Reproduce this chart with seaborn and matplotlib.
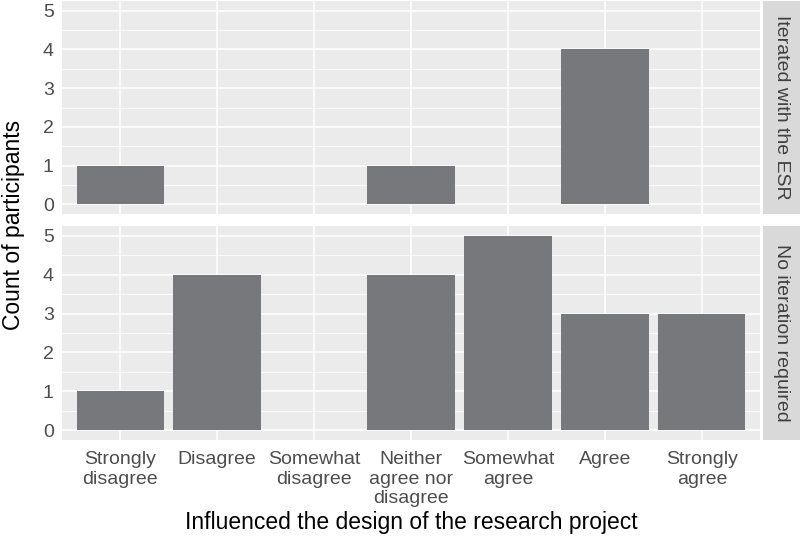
import matplotlib
matplotlib.use("Agg")
import matplotlib.pyplot as plt
import seaborn as sns
import pandas as pd
import numpy as np

categories = ["Strongly\ndisagree", "Disagree", "Somewhat\ndisagree",
              "Neither\nagree nor\ndisagree", "Somewhat\nagree", "Agree", "Strongly\nagree"]
facets = ["Iterated with the ESR", "No iteration required"]
counts_iterated = [1, 0, 0, 1, 0, 4, 0]
counts_no_iteration = [1, 4, 0, 4, 5, 3, 3]
y_ticks = [0, 1, 2, 3, 4, 5]

sns.set_theme(style="white")
plt.rcParams['font.family'] = ['Liberation Sans', 'DejaVu Sans']

fig = plt.figure(figsize=(8, 5.41), dpi=100)
W, H = 800, 541
left, right = 62, 760
panels = [(1, 214), (226, 440)]
strip_l, strip_r = 763, 800

bar_color = "#77787B"
bg = "#EBEBEB"

for i, (facet, vals) in enumerate(zip(facets, [counts_iterated, counts_no_iteration])):
    top, bot = panels[i]
    ax = fig.add_axes([left / W, 1 - bot / H, (right - left) / W, (bot - top) / H])
    ax.set_facecolor(bg)
    df = pd.DataFrame({"cat": categories, "n": vals})
    sns.barplot(data=df, x="cat", y="n", order=categories, color=bar_color,
                saturation=1, width=0.9, ax=ax, edgecolor="none", zorder=3)
    ax.set_xlim(-0.6, len(categories) - 0.4)
    ax.set_ylim(-0.25, 5.25)
    ax.set_yticks(y_ticks)
    ax.set_yticks([0.5, 1.5, 2.5, 3.5, 4.5], minor=True)
    ax.grid(True, which="major", color="white", linewidth=1.1, zorder=0)
    ax.grid(True, which="minor", axis="y", color="white", linewidth=0.55, zorder=0)
    ax.set_axisbelow(True)
    for s in ax.spines.values():
        s.set_visible(False)
    ax.tick_params(axis="both", which="major", length=4, width=1, color="#333333",
                   labelcolor="#4D4D4D", labelsize=14, pad=2)
    ax.tick_params(axis="both", which="minor", length=0)
    ax.set_ylabel("")
    ax.set_xlabel("")
    if i == 0:
        ax.tick_params(axis="x", which="major", length=0, labelbottom=False)
    else:
        ax.set_xticks(range(len(categories)))
        ax.set_xticklabels(categories, linespacing=1.2)
        ax.tick_params(axis="x", which="major", pad=4)
        ax.set_xlabel("Influenced the design of the research project", fontsize=16.5,
                      color="black", labelpad=3)
    # strip
    sax = fig.add_axes([strip_l / W, 1 - bot / H, (strip_r - strip_l) / W, (bot - top) / H])
    sax.set_facecolor("#D9D9D9")
    sax.set_xticks([]); sax.set_yticks([])
    for s in sax.spines.values():
        s.set_visible(False)
    sax.text(0.5, 0.5, facet, rotation=-90, ha="center", va="center",
             fontsize=14, color="#404040", transform=sax.transAxes)

fig.text(14 / W, 1 - 225 / H, "Count of participants", rotation=90, ha="center",
         va="center", fontsize=16.5, color="black")

fig.savefig("out.png", dpi=100)
